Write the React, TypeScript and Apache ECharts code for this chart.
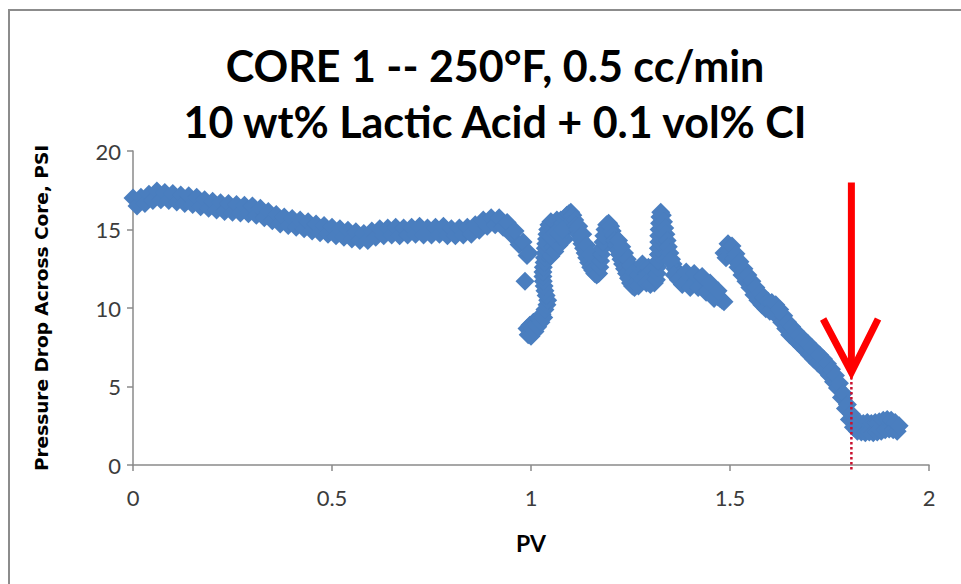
import React, { useEffect, useRef } from 'react';
import * as echarts from 'echarts';

// ---- Chart texts ----
const titleLines = ['CORE 1 -- 250°F, 0.5 cc/min', '10 wt% Lactic Acid + 0.1 vol% CI'];
const xAxisName = 'PV';
const yAxisName = 'Pressure Drop Across Core, PSI';

// ---- Axis ticks ----
const xTicks = [0, 0.5, 1, 1.5, 2];
const yTicks = [0, 5, 10, 15, 20];

// ---- Data: [PV, pressure drop psi] ----
// Early, smooth part of the flood (thick band of points)
const segmentA: [number, number][] = [
  [0.0, 17.0], [0.01, 16.5], [0.02, 17.05], [0.03, 16.65], [0.04, 17.25], [0.05, 16.85],
  [0.06, 17.45], [0.07, 16.9], [0.08, 17.35], [0.09, 16.85], [0.1, 17.3], [0.11, 16.75],
  [0.12, 17.2], [0.13, 16.65], [0.14, 17.15], [0.15, 16.6], [0.16, 17.05], [0.17, 16.45],
  [0.18, 16.9], [0.19, 16.35], [0.2, 16.8], [0.21, 16.25], [0.22, 16.7], [0.23, 16.15],
  [0.24, 16.65], [0.25, 16.1], [0.26, 16.6], [0.27, 16.05], [0.28, 16.55], [0.29, 16.0],
  [0.3, 16.5], [0.31, 15.9], [0.32, 16.35], [0.33, 15.75], [0.34, 16.15], [0.35, 15.55],
  [0.36, 15.95], [0.37, 15.35], [0.38, 15.8], [0.39, 15.25], [0.4, 15.7], [0.41, 15.15],
  [0.42, 15.6], [0.43, 15.05], [0.44, 15.5], [0.45, 14.9], [0.46, 15.35], [0.47, 14.8],
  [0.48, 15.25], [0.49, 14.7], [0.5, 15.15], [0.51, 14.6], [0.52, 15.05], [0.53, 14.5],
  [0.54, 14.95], [0.55, 14.4], [0.56, 14.85], [0.57, 14.3], [0.58, 14.75], [0.59, 14.3],
  [0.6, 14.9], [0.61, 14.5], [0.62, 15.05], [0.63, 14.6], [0.64, 15.1], [0.65, 14.65],
  [0.66, 15.15], [0.67, 14.6], [0.68, 15.1], [0.69, 14.65], [0.7, 15.15], [0.71, 14.7],
  [0.72, 15.2], [0.73, 14.65], [0.74, 15.1], [0.75, 14.65], [0.76, 15.15], [0.77, 14.7],
  [0.78, 15.2], [0.79, 14.6], [0.8, 15.05], [0.81, 14.6], [0.82, 15.1], [0.83, 14.65],
  [0.84, 15.15], [0.85, 14.7], [0.86, 15.3], [0.87, 14.95], [0.88, 15.6], [0.89, 15.2],
  [0.9, 15.75], [0.91, 15.3], [0.92, 15.75], [0.93, 15.15], [0.94, 15.45], [0.95, 14.7],
  [0.96, 14.9], [0.97, 14.05], [0.98, 14.2], [0.99, 13.35], [0.995, 13.5],
];

// Breakthrough region with jagged peaks
const segmentB: [number, number][] = [
  [0.985, 11.7],
  [0.99, 8.7], [0.993, 8.3], [0.997, 8.9], [1.0, 8.2], [1.003, 8.7], [1.006, 9.1], [1.01, 8.5],
  [1.013, 9.0], [1.017, 8.8], [1.02, 9.3], [1.025, 9.1], [1.028, 9.6], [1.032, 9.4],
  [1.035, 9.9], [1.04, 10.2],
  [1.042, 10.5], [1.038, 10.8], [1.035, 11.1], [1.033, 11.4], [1.031, 11.7], [1.03, 12.0],
  [1.03, 12.3], [1.031, 12.6], [1.033, 12.9], [1.034, 13.2], [1.035, 13.5], [1.036, 13.8],
  [1.037, 14.1], [1.039, 14.4], [1.04, 14.7], [1.042, 15.0], [1.045, 15.3],
  [1.05, 15.5], [1.055, 15.1], [1.06, 15.4], [1.065, 15.6], [1.07, 15.2], [1.075, 15.6],
  [1.08, 15.4], [1.085, 15.7], [1.09, 15.9], [1.095, 16.0], [1.1, 16.1], [1.105, 15.9],
  [1.05, 13.3], [1.055, 13.9], [1.06, 13.6], [1.065, 14.4], [1.07, 14.0], [1.075, 14.5],
  [1.08, 14.8], [1.085, 14.4], [1.09, 15.0], [1.095, 15.3],
  [1.05, 14.5], [1.06, 14.8], [1.07, 14.7], [1.08, 15.0],
  [1.11, 15.6], [1.113, 15.3], [1.117, 15.0], [1.12, 14.7], [1.124, 14.4], [1.128, 14.1],
  [1.132, 13.8], [1.136, 13.5], [1.14, 13.2], [1.145, 12.9], [1.15, 12.6], [1.155, 12.4],
  [1.16, 12.2], [1.165, 12.1], [1.17, 12.2],
  [1.12, 15.2], [1.13, 14.7], [1.14, 14.0], [1.15, 13.4],
  [1.173, 12.6], [1.175, 13.0], [1.177, 13.4], [1.179, 13.8], [1.181, 14.2], [1.183, 14.6],
  [1.186, 15.0], [1.19, 15.3], [1.195, 15.4], [1.2, 15.2],
  [1.204, 14.9], [1.207, 14.6], [1.21, 14.3], [1.214, 14.0], [1.218, 13.7], [1.222, 13.4],
  [1.226, 13.1], [1.23, 12.8], [1.235, 12.5], [1.24, 12.2], [1.245, 11.9], [1.25, 11.6],
  [1.255, 11.4], [1.26, 11.3],
  [1.22, 14.3], [1.228, 13.9], [1.235, 13.5], [1.242, 13.1], [1.25, 12.7], [1.258, 12.3],
  [1.265, 11.7], [1.27, 12.1], [1.275, 12.5], [1.28, 12.8], [1.285, 12.5], [1.29, 12.2],
  [1.295, 12.6], [1.3, 12.3], [1.305, 11.9], [1.31, 11.6],
  [1.27, 11.4], [1.28, 11.8], [1.29, 11.6], [1.3, 11.5],
  [1.315, 11.8], [1.317, 12.2], [1.318, 12.6], [1.319, 13.0], [1.32, 13.4], [1.32, 13.8],
  [1.321, 14.2], [1.321, 14.6], [1.322, 15.0], [1.323, 15.4], [1.324, 15.8], [1.326, 16.1],
  [1.33, 15.9],
  [1.333, 15.5], [1.336, 15.1], [1.339, 14.7], [1.342, 14.3], [1.345, 13.9], [1.349, 13.5],
  [1.353, 13.1], [1.357, 12.8], [1.362, 12.5], [1.367, 12.3], [1.372, 12.1], [1.378, 12.0],
  [1.384, 11.9], [1.39, 11.85], [1.395, 11.8], [1.4, 11.75], [1.405, 11.8], [1.41, 11.7],
  [1.415, 11.8], [1.42, 11.75], [1.425, 11.7], [1.43, 11.6], [1.435, 11.5], [1.44, 11.4],
  [1.445, 11.3], [1.45, 11.15], [1.455, 11.0], [1.46, 10.9], [1.465, 10.8], [1.47, 10.7],
  [1.475, 10.6], [1.48, 10.5], [1.485, 10.4],
  [1.35, 13.0], [1.36, 12.1], [1.37, 11.8], [1.38, 11.5], [1.39, 12.3], [1.4, 11.3],
  [1.41, 12.2], [1.42, 11.3], [1.43, 12.0], [1.44, 11.0], [1.45, 11.6], [1.46, 10.6],
  [1.47, 11.1],
];

// Late decline to wormhole breakthrough and the low plateau
const segmentC: [number, number][] = [
  [1.485, 13.5], [1.49, 13.2], [1.495, 14.1], [1.5, 13.6], [1.505, 13.95], [1.51, 13.1],
  [1.515, 13.45], [1.52, 12.6], [1.525, 12.95], [1.53, 12.1], [1.535, 12.5], [1.54, 11.7],
  [1.545, 12.1], [1.55, 11.3], [1.555, 11.7], [1.56, 10.85], [1.565, 11.3], [1.57, 10.5],
  [1.575, 10.95], [1.58, 10.2], [1.585, 10.65], [1.59, 9.95], [1.595, 10.45], [1.6, 9.8],
  [1.605, 10.35], [1.61, 9.7], [1.615, 10.2], [1.62, 9.45], [1.625, 9.9], [1.63, 9.1],
  [1.635, 9.5], [1.64, 8.7], [1.645, 9.1], [1.65, 8.3], [1.655, 8.8], [1.66, 8.05],
  [1.665, 8.5], [1.67, 7.8], [1.675, 8.25], [1.68, 7.55], [1.685, 8.0], [1.69, 7.3],
  [1.695, 7.75], [1.7, 7.0], [1.705, 7.5], [1.71, 6.75], [1.715, 7.25], [1.72, 6.5],
  [1.725, 7.0], [1.73, 6.3], [1.735, 6.75], [1.74, 6.0], [1.745, 6.45], [1.75, 5.7],
  [1.755, 6.1], [1.76, 5.3], [1.765, 5.7], [1.77, 4.9], [1.775, 5.2], [1.78, 4.3],
  [1.785, 4.55], [1.79, 3.6], [1.795, 3.85], [1.8, 2.9], [1.805, 3.25], [1.81, 2.4],
  [1.815, 2.85], [1.82, 2.15], [1.825, 2.7], [1.83, 2.1], [1.835, 2.65], [1.84, 2.05],
  [1.845, 2.7], [1.85, 2.1], [1.855, 2.65], [1.86, 2.05], [1.865, 2.7], [1.87, 2.1],
  [1.875, 2.75], [1.88, 2.15], [1.885, 2.85], [1.89, 2.25], [1.895, 2.9], [1.9, 2.3],
  [1.905, 2.85], [1.91, 2.25], [1.915, 2.7], [1.92, 2.15], [1.925, 2.5],
];

// ---- Annotation (breakthrough marker) in data units ----
const arrowPV = 1.805;
const arrowShaftPsi = [18.0, 5.9];
const arrowHeadPts: [number, number][] = [[1.734, 9.3], [1.805, 5.9], [1.872, 9.3]];
const dottedPsi = [5.6, -0.35];

export default function App() {
  const ref = useRef<HTMLDivElement>(null);

  useEffect(() => {
    if (!ref.current) return;
    const chart = echarts.init(ref.current, null, { renderer: 'svg' });
    const points = [...segmentA, ...segmentB, ...segmentC];
    const labelColor = '#3c3c3c';
    const axisColor = '#8a8a8a';

    chart.setOption({
      animation: false,
      backgroundColor: '#ffffff',
      title: {
        text: titleLines.join('\n'),
        left: 490,
        top: 32,
        textAlign: 'center',
        textStyle: {
          fontFamily: 'Lato',
          fontWeight: 'bold',
          fontSize: 43,
          lineHeight: 56,
          color: '#000000',
        },
      },
      grid: { left: 133, right: 32, top: 151, bottom: 119, containLabel: false },
      xAxis: {
        type: 'value',
        min: xTicks[0],
        max: xTicks[xTicks.length - 1],
        interval: xTicks[1] - xTicks[0],
        name: xAxisName,
        nameLocation: 'middle',
        nameGap: 66,
        nameTextStyle: { fontFamily: 'Lato', fontWeight: 'bold', fontSize: 23, color: '#000' },
        axisLine: { show: true, lineStyle: { color: axisColor, width: 1.5 } },
        axisTick: { show: true, inside: false, length: 6, lineStyle: { color: axisColor, width: 1.5 } },
        axisLabel: { fontFamily: 'Lato', fontSize: 22, color: labelColor, margin: 21 },
        splitLine: { show: false },
      },
      yAxis: {
        type: 'value',
        min: yTicks[0],
        max: yTicks[yTicks.length - 1],
        interval: yTicks[1] - yTicks[0],
        name: yAxisName,
        nameLocation: 'middle',
        nameRotate: 90,
        nameGap: 82,
        nameTextStyle: { fontFamily: 'DejaVu Sans', fontWeight: 'bold', fontSize: 18.5, color: '#000' },
        axisLine: { show: true, lineStyle: { color: axisColor, width: 1.5 } },
        axisTick: { show: true, inside: false, length: 6, lineStyle: { color: axisColor, width: 1.5 } },
        axisLabel: { fontFamily: 'Lato', fontSize: 22, color: labelColor, margin: 12 },
        splitLine: { show: false },
      },
      series: [
        {
          type: 'scatter',
          data: points,
          symbol: 'diamond',
          symbolSize: 19,
          itemStyle: { color: '#4A7EBF', opacity: 1 },
          clip: false,
          z: 2,
        },
      ],
    });

    const px = (pv: number, v: number) => chart.convertToPixel({ gridIndex: 0 }, [pv, v]) as number[];
    const shaftTop = px(arrowPV, arrowShaftPsi[0]);
    const shaftBottom = px(arrowPV, arrowShaftPsi[1]);
    const head = arrowHeadPts.map(([a, b]) => px(a, b));
    const dotTop = px(arrowPV, dottedPsi[0]);
    const dotBottom = px(arrowPV, dottedPsi[1]);

    chart.setOption({
      graphic: [
        {
          type: 'rect',
          silent: true,
          z: 0,
          shape: { x: 9, y: 10, width: 1000, height: 700 },
          style: { fill: 'none', stroke: '#8c8c8c', lineWidth: 2 },
        },
        {
          type: 'line',
          silent: true,
          z: 100,
          shape: { x1: dotTop[0], y1: dotTop[1], x2: dotBottom[0], y2: dotBottom[1] },
          style: { stroke: '#c8102e', lineWidth: 2.5, lineDash: [2.5, 2.5] },
        },
        {
          type: 'line',
          silent: true,
          z: 101,
          shape: { x1: shaftTop[0], y1: shaftTop[1], x2: shaftBottom[0], y2: shaftBottom[1] },
          style: { stroke: '#ff0000', lineWidth: 7 },
        },
        {
          type: 'polyline',
          silent: true,
          z: 101,
          shape: { points: head },
          style: { stroke: '#ff0000', lineWidth: 7, fill: 'none', lineJoin: 'miter' },
        },
      ],
    });

    return () => chart.dispose();
  }, []);

  return (
    <div
      ref={ref}
      style={{ position: 'fixed', left: 0, top: 0, width: 961, height: 584, background: '#ffffff' }}
    />
  );
}
